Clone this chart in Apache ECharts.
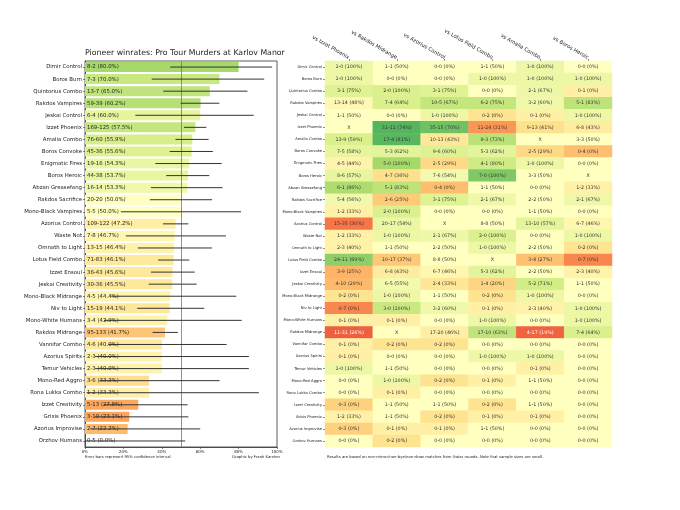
<!DOCTYPE html>
<html><head><meta charset="utf-8">
<script src="https://cdn.jsdelivr.net/npm/echarts@6/dist/echarts.min.js"></script>
<style>html,body{margin:0;padding:0;background:#fff}#c{width:680px;height:510px}</style>
</head><body><div id="c"></div><script>
const decks = ['Dimir Control','Boros Burn','Quintorius Combo','Rakdos Vampires','Jeskai Control','Izzet Phoenix','Amalia Combo','Boros Convoke','Enigmatic Fires','Boros Heroic','Abzan Greasefang','Rakdos Sacrifice','Mono-Black Vampires','Azorius Control','Waste Not','Omnath to Light','Lotus Field Combo','Izzet Ensoul','Jeskai Creativity','Mono-Black Midrange','Niv to Light','Mono-White Humans','Rakdos Midrange','Vannifar Combo','Azorius Spirits','Temur Vehicles','Mono-Red Aggro','Rona Lukka Combo','Izzet Creativity','Grixis Phoenix','Azorius Improvise','Orzhov Humans'];
const wins   = [8,7,13,59,6,169,76,45,19,44,16,20,5,109,7,13,71,36,30,4,15,3,95,4,2,2,3,1,5,3,2,0];
const losses = [2,3,7,39,4,125,60,36,16,38,14,20,5,122,8,15,83,43,36,5,19,4,133,6,3,3,6,2,13,10,7,5];
const opponents = ['vs Izzet Phoenix','vs Rakdos Midrange','vs Azorius Control','vs Lotus Field Combo','vs Amalia Combo','vs Boros Heroic'];
const matchups = [
 ['1-0','1-1','0-0','1-1','1-0','0-0'],
 ['1-0','0-0','0-0','1-0','1-0','1-0'],
 ['3-1','2-0','3-1','0-0','2-1','0-1'],
 ['13-14','7-4','10-5','6-2','3-2','5-1'],
 ['1-1','0-0','1-0','0-2','0-1','1-0'],
 ['X','31-11','35-15','11-24','9-13','6-8'],
 ['13-9','17-4','10-13','8-3','X','3-3'],
 ['7-5','5-3','9-6','5-3','2-5','0-4'],
 ['4-5','5-0','2-5','4-1','1-0','0-0'],
 ['8-6','4-7','7-6','7-0','3-3','X'],
 ['6-1','5-1','0-4','1-1','0-0','1-2'],
 ['5-4','2-6','3-1','2-1','2-2','2-1'],
 ['1-2','2-0','0-0','0-0','1-1','0-0'],
 ['15-35','20-17','X','8-8','13-10','6-7'],
 ['1-2','1-0','2-1','2-0','0-0','1-0'],
 ['2-3','1-1','2-2','1-0','2-2','0-2'],
 ['24-11','10-17','8-8','X','3-8','0-7'],
 ['3-9','6-8','6-7','5-3','2-2','2-3'],
 ['4-10','6-5','2-4','1-4','5-2','1-1'],
 ['0-2','1-0','1-1','0-2','1-0','0-0'],
 ['0-7','3-0','3-2','0-1','2-3','1-0'],
 ['0-1','0-1','0-0','1-0','0-0','1-0'],
 ['11-31','X','17-20','17-10','4-17','7-4'],
 ['0-1','0-2','0-2','0-0','0-0','0-0'],
 ['0-1','0-0','0-0','1-0','1-0','0-0'],
 ['1-0','1-1','0-0','0-0','0-1','0-0'],
 ['0-0','1-0','0-2','0-1','1-1','0-0'],
 ['0-0','0-1','0-0','0-0','0-0','0-0'],
 ['0-3','1-1','1-1','0-2','1-1','0-0'],
 ['1-2','1-1','0-2','0-1','0-1','0-0'],
 ['0-3','0-1','0-1','1-1','0-0','0-0'],
 ['0-0','0-2','0-0','0-0','0-0','0-0']
];
const xTicks = [0,20,40,60,80,100];

const RdYlGn = ['#a50026','#d73027','#f46d43','#fdae61','#fee08b','#ffffbf','#d9ef8b','#a6d96a','#66bd63','#1a9850','#006837'];
// shrunk estimate with 10-10 prior used for colouring
const shade = (w,l) => (w+10)/(w+l+20);

// exact (Clopper-Pearson) 95% interval
const logF=[0]; for(let i=1;i<=600;i++) logF[i]=logF[i-1]+Math.log(i);
function cdf(k,n,p){ if(p<=0) return 1; if(p>=1) return k>=n?1:0; let s=0; for(let i=0;i<=k;i++){ s+=Math.exp(logF[n]-logF[i]-logF[n-i]+i*Math.log(p)+(n-i)*Math.log(1-p)); } return s; }
function bisect(f){ let a=0,b=1; for(let i=0;i<60;i++){ const m=(a+b)/2; if(f(m)) b=m; else a=m; } return (a+b)/2; }
function ci(w,n){
  const lo = w===0?0:bisect(p=>1-cdf(w-1,n,p)>=0.025);
  const hi = w===n?1:bisect(p=>cdf(w,n,p)<=0.025);
  return [lo*100,hi*100];
}
function roundHalfEven(v){ const f=Math.floor(v); const d=v-f; if(Math.abs(d-0.5)<1e-9) return f%2===0?f:f+1; return Math.round(v); }

const barData = decks.map((d,i)=>{ const n=wins[i]+losses[i]; return [wins[i]/n*100, i, shade(wins[i],losses[i])]; });
const errData = decks.map((d,i)=>{ const n=wins[i]+losses[i]; const c=ci(wins[i],n); return [c[0],c[1],i]; });

const hmData=[];
matchups.forEach((row,r)=>row.forEach((cell,c)=>{
  let s=0.5, txt='X';
  if(cell!=='X'){ const [w,l]=cell.split('-').map(Number); s=shade(w,l); const n=w+l; txt=cell+' ('+(n?roundHalfEven(w/n*100):0)+'%)'; }
  hmData.push({value:[c,r,s], txt:txt, label:{color: s<0.35?'#ffffff':'#333333'}});
}));

const chart = echarts.init(document.getElementById('c'), null, {renderer:'canvas'});
chart.setOption({
  animation:false,
  textStyle:{fontFamily:'DejaVu Sans'},
  title:{text:'Pioneer winrates: Pro Tour Murders at Karlov Manor', left:85, top:49, padding:0,
    textStyle:{fontSize:7.8, fontWeight:'normal', color:'#222', fontFamily:'DejaVu Sans'}},
  grid:[
    {left:85, top:61, width:192, height:386, show:true, borderColor:'#333', borderWidth:0.8, containLabel:false},
    {left:325, top:61, width:287, height:386, containLabel:false}
  ],
  xAxis:[
    {gridIndex:0, type:'value', min:xTicks[0], max:xTicks[xTicks.length-1], interval:20, position:'bottom',
     axisLine:{show:true, lineStyle:{color:'#333', width:0.8}}, axisTick:{show:true, length:2, lineStyle:{color:'#333', width:0.6}},
     axisLabel:{formatter:'{value}%', fontSize:4, color:'#222', margin:3}, splitLine:{show:false}},
    {gridIndex:1, type:'category', data:opponents, position:'top',
     axisLine:{show:false}, axisTick:{show:true, alignWithLabel:true, length:2, lineStyle:{color:'#333', width:0.6}},
     axisLabel:{rotate:30, align:'right', verticalAlign:'middle', fontSize:5.2, color:'#222', interval:0, margin:3}, splitLine:{show:false}}
  ],
  yAxis:[
    {gridIndex:0, type:'category', data:decks, inverse:true,
     axisLine:{show:true, lineStyle:{color:'#333', width:0.8}}, axisTick:{show:true, alignWithLabel:true, length:2, lineStyle:{color:'#333', width:0.6}},
     axisLabel:{fontSize:5.4, color:'#222', interval:0, margin:3}},
    {gridIndex:1, type:'category', data:decks, inverse:true,
     axisLine:{show:false}, axisTick:{show:true, alignWithLabel:true, length:2, lineStyle:{color:'#333', width:0.6}},
     axisLabel:{fontSize:3.7, color:'#222', interval:0, margin:3}}
  ],
  visualMap:[
    {show:false, type:'continuous', seriesIndex:0, dimension:2, min:0.25, max:0.75, inRange:{color:RdYlGn}},
    {show:false, type:'continuous', seriesIndex:2, dimension:2, min:0.25, max:0.75, inRange:{color:RdYlGn}}
  ],
  series:[
    {type:'bar', xAxisIndex:0, yAxisIndex:0, data:barData, encode:{x:0,y:1}, barWidth:10, z:2,
     label:{show:true, position:'insideLeft', distance:2, fontSize:5.4, color:'#222',
       formatter:p=>wins[p.dataIndex]+'-'+losses[p.dataIndex]+' ('+p.value[0].toFixed(1)+'%)'},
     markLine:{silent:true, symbol:'none', label:{show:false}, lineStyle:{color:'#777', width:0.8, type:'solid'}, data:[{xAxis:50}]},
     emphasis:{disabled:true}},
    {type:'custom', xAxisIndex:0, yAxisIndex:0, data:errData, encode:{x:[0,1], y:2}, z:5, silent:true,
     renderItem:(params,api)=>{
       const a=api.coord([api.value(0),api.value(2)]), b=api.coord([api.value(1),api.value(2)]);
       return {type:'line', shape:{x1:a[0],y1:a[1],x2:b[0],y2:b[1]}, style:{stroke:'#333', lineWidth:1}};
     }},
    {type:'heatmap', xAxisIndex:1, yAxisIndex:1, data:hmData, emphasis:{disabled:true},
     label:{show:true, fontSize:4.8, formatter:p=>p.data.txt}}
  ],
  graphic:[
    {type:'text', left:85, top:455, style:{text:'Error bars represent 95% confidence interval.', fontSize:3.8, fill:'#222', fontFamily:'DejaVu Sans'}},
    {type:'text', right:400, top:455, style:{text:'Graphic by Frank Karsten', fontSize:3.8, fill:'#222', fontFamily:'DejaVu Sans'}},
    {type:'text', left:327, top:455, style:{text:'Results are based on non-mirror/non-bye/non-draw matches from Swiss rounds. Note that sample sizes are small.', fontSize:3.8, fill:'#222', fontFamily:'DejaVu Sans'}}
  ]
});
</script></body></html>
